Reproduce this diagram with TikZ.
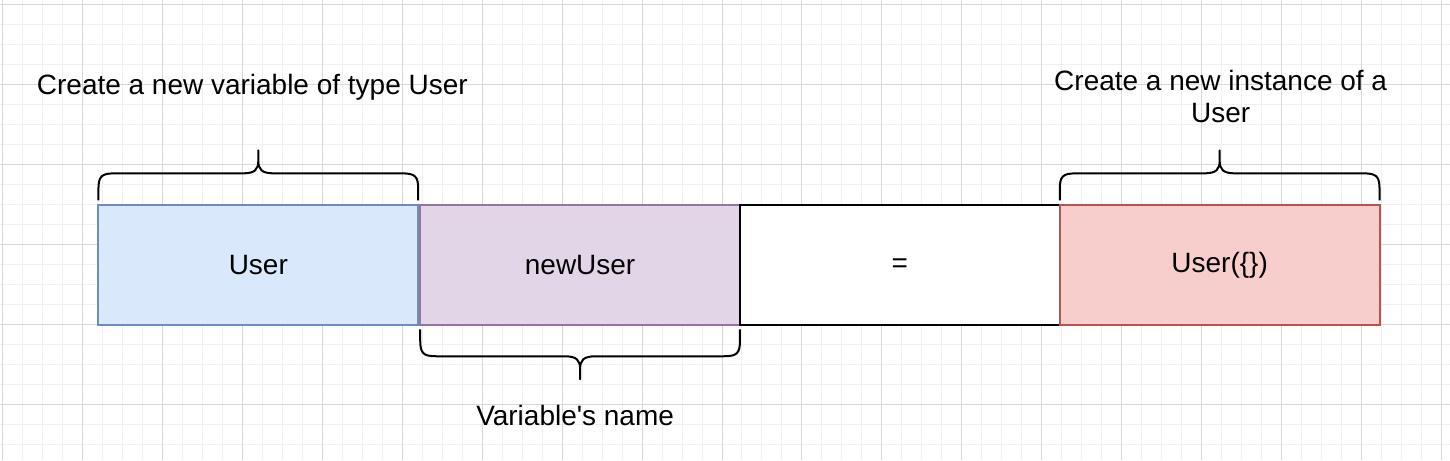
\documentclass[tikz,border=0pt]{standalone}
\usepackage{fontspec}
\newfontfamily\plainsans{Liberation Sans}
\usetikzlibrary{positioning}
\definecolor{gridminor}{RGB}{240,240,240}
\definecolor{gridmajor}{RGB}{216,216,216}
\definecolor{typeblue}{HTML}{DAE8FC}
\definecolor{typeblueline}{HTML}{6C8EBF}
\definecolor{namepurple}{HTML}{E1D5E7}
\definecolor{namepurpleline}{HTML}{9673A6}
\definecolor{instred}{HTML}{F8CECC}
\definecolor{instredline}{HTML}{B85450}

\begin{document}
\begin{tikzpicture}[
    x=1pt, y=1pt,
    font=\plainsans\fontsize{28}{32}\selectfont,
    part/.style={rectangle, draw, line width=2pt, outer sep=0pt,
                 minimum width=320pt, minimum height=120pt, align=center},
    typepart/.style={part, fill=typeblue, draw=typeblueline},
    namepart/.style={part, fill=namepurple, draw=namepurpleline},
    eqpart/.style={part, fill=white, draw=black},
    instpart/.style={part, fill=instred, draw=instredline},
    note/.style={align=center, inner sep=0pt},
    curly/.pic={
      \draw[line width=2pt, line join=round]
        (0,0) -- (0,11) .. controls (0,24) and (3,27) .. (16,27)
        -- (144,27) .. controls (157,27) and (160,31) .. (160,40)
        -- (160,50) -- (160,40)
        .. controls (160,31) and (163,27) .. (176,27)
        -- (304,27) .. controls (317,27) and (320,24) .. (320,11)
        -- (320,0);
    }
]
% background grid
\fill[white] (0,0) rectangle (1450,460);
\draw[gridminor, line width=1pt, shift={(2,16)}, step=20pt] (-2,-16) grid (1448,444);
\draw[gridmajor, line width=1pt, shift={(2,56)}, step=80pt] (-2,-56) grid (1448,404);
\useasboundingbox (0,0) rectangle (1450,460);

% Row of parts
\node[typepart] (type) at (258,195) {User};
\node[namepart, right=2pt of type] (name) {newUser};
\node[eqpart, right=0pt of name] (eq) {=};
\node[instpart, right=0pt of eq] (inst) {User(\{\})};

% Braces
\pic at ([yshift=5pt]type.north west) {curly};
\pic[yscale=-1] at ([yshift=-4pt]name.south west) {curly};
\pic at ([yshift=5pt]inst.north west) {curly};

% Labels
\node[note] (typenote) at (252,373) {Create a new variable of type User};
\node[note] (namenote) at (575,45) {Variable's name};
\node[note] (instnote) at (1221,364) {Create a new instance of a\\User};
\end{tikzpicture}
\end{document}
